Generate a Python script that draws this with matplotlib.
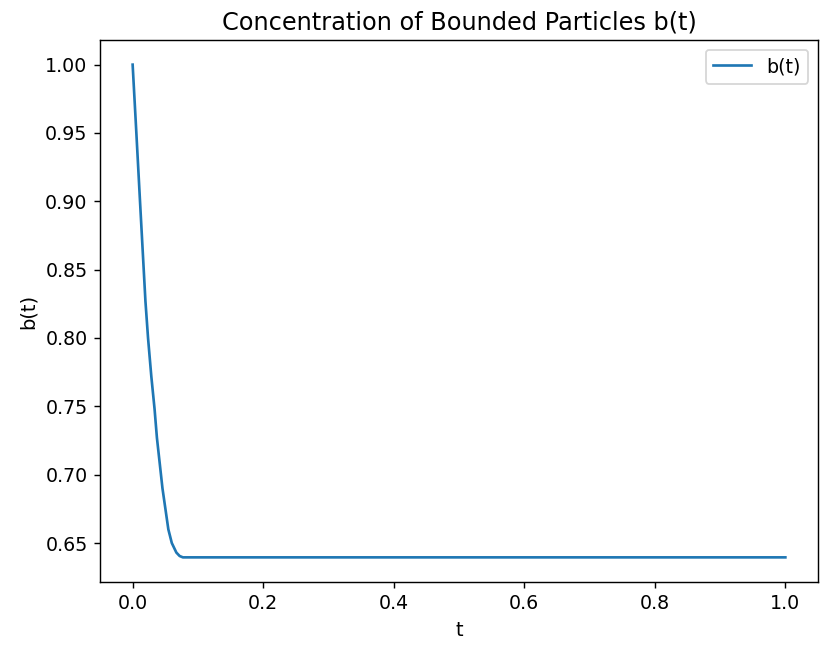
import matplotlib
matplotlib.use("Agg")
import matplotlib.pyplot as plt

# values
t_vals = [0.0, 0.0057, 0.0113, 0.0196, 0.0236, 0.0286, 0.0336, 0.0372,
          0.0457, 0.0547, 0.060, 0.067, 0.072, 0.077, 1.0]
b_vals = [1.0, 0.95, 0.90, 0.827, 0.800, 0.772, 0.748, 0.727,
          0.690, 0.660, 0.650, 0.6430, 0.6405, 0.6395, 0.6395]

DPI = 128
fig = plt.figure(figsize=(822 / DPI, 646 / DPI), dpi=DPI)
ax = fig.add_axes([100 / 822, 1 - 582 / 646, 718 / 822, 542 / 646])

ax.plot(t_vals, b_vals, color="#1f77b4", lw=1.5, label="b(t)")
ax.set_title("Concentration of Bounded Particles b(t)", fontsize=13.5)
ax.set_xlabel("t", fontsize=11)
ax.set_ylabel("b(t)", fontsize=11)
ax.tick_params(labelsize=10.7)
ax.legend(loc="upper right", fontsize=10.7)

fig.savefig("out.png", dpi=DPI)
